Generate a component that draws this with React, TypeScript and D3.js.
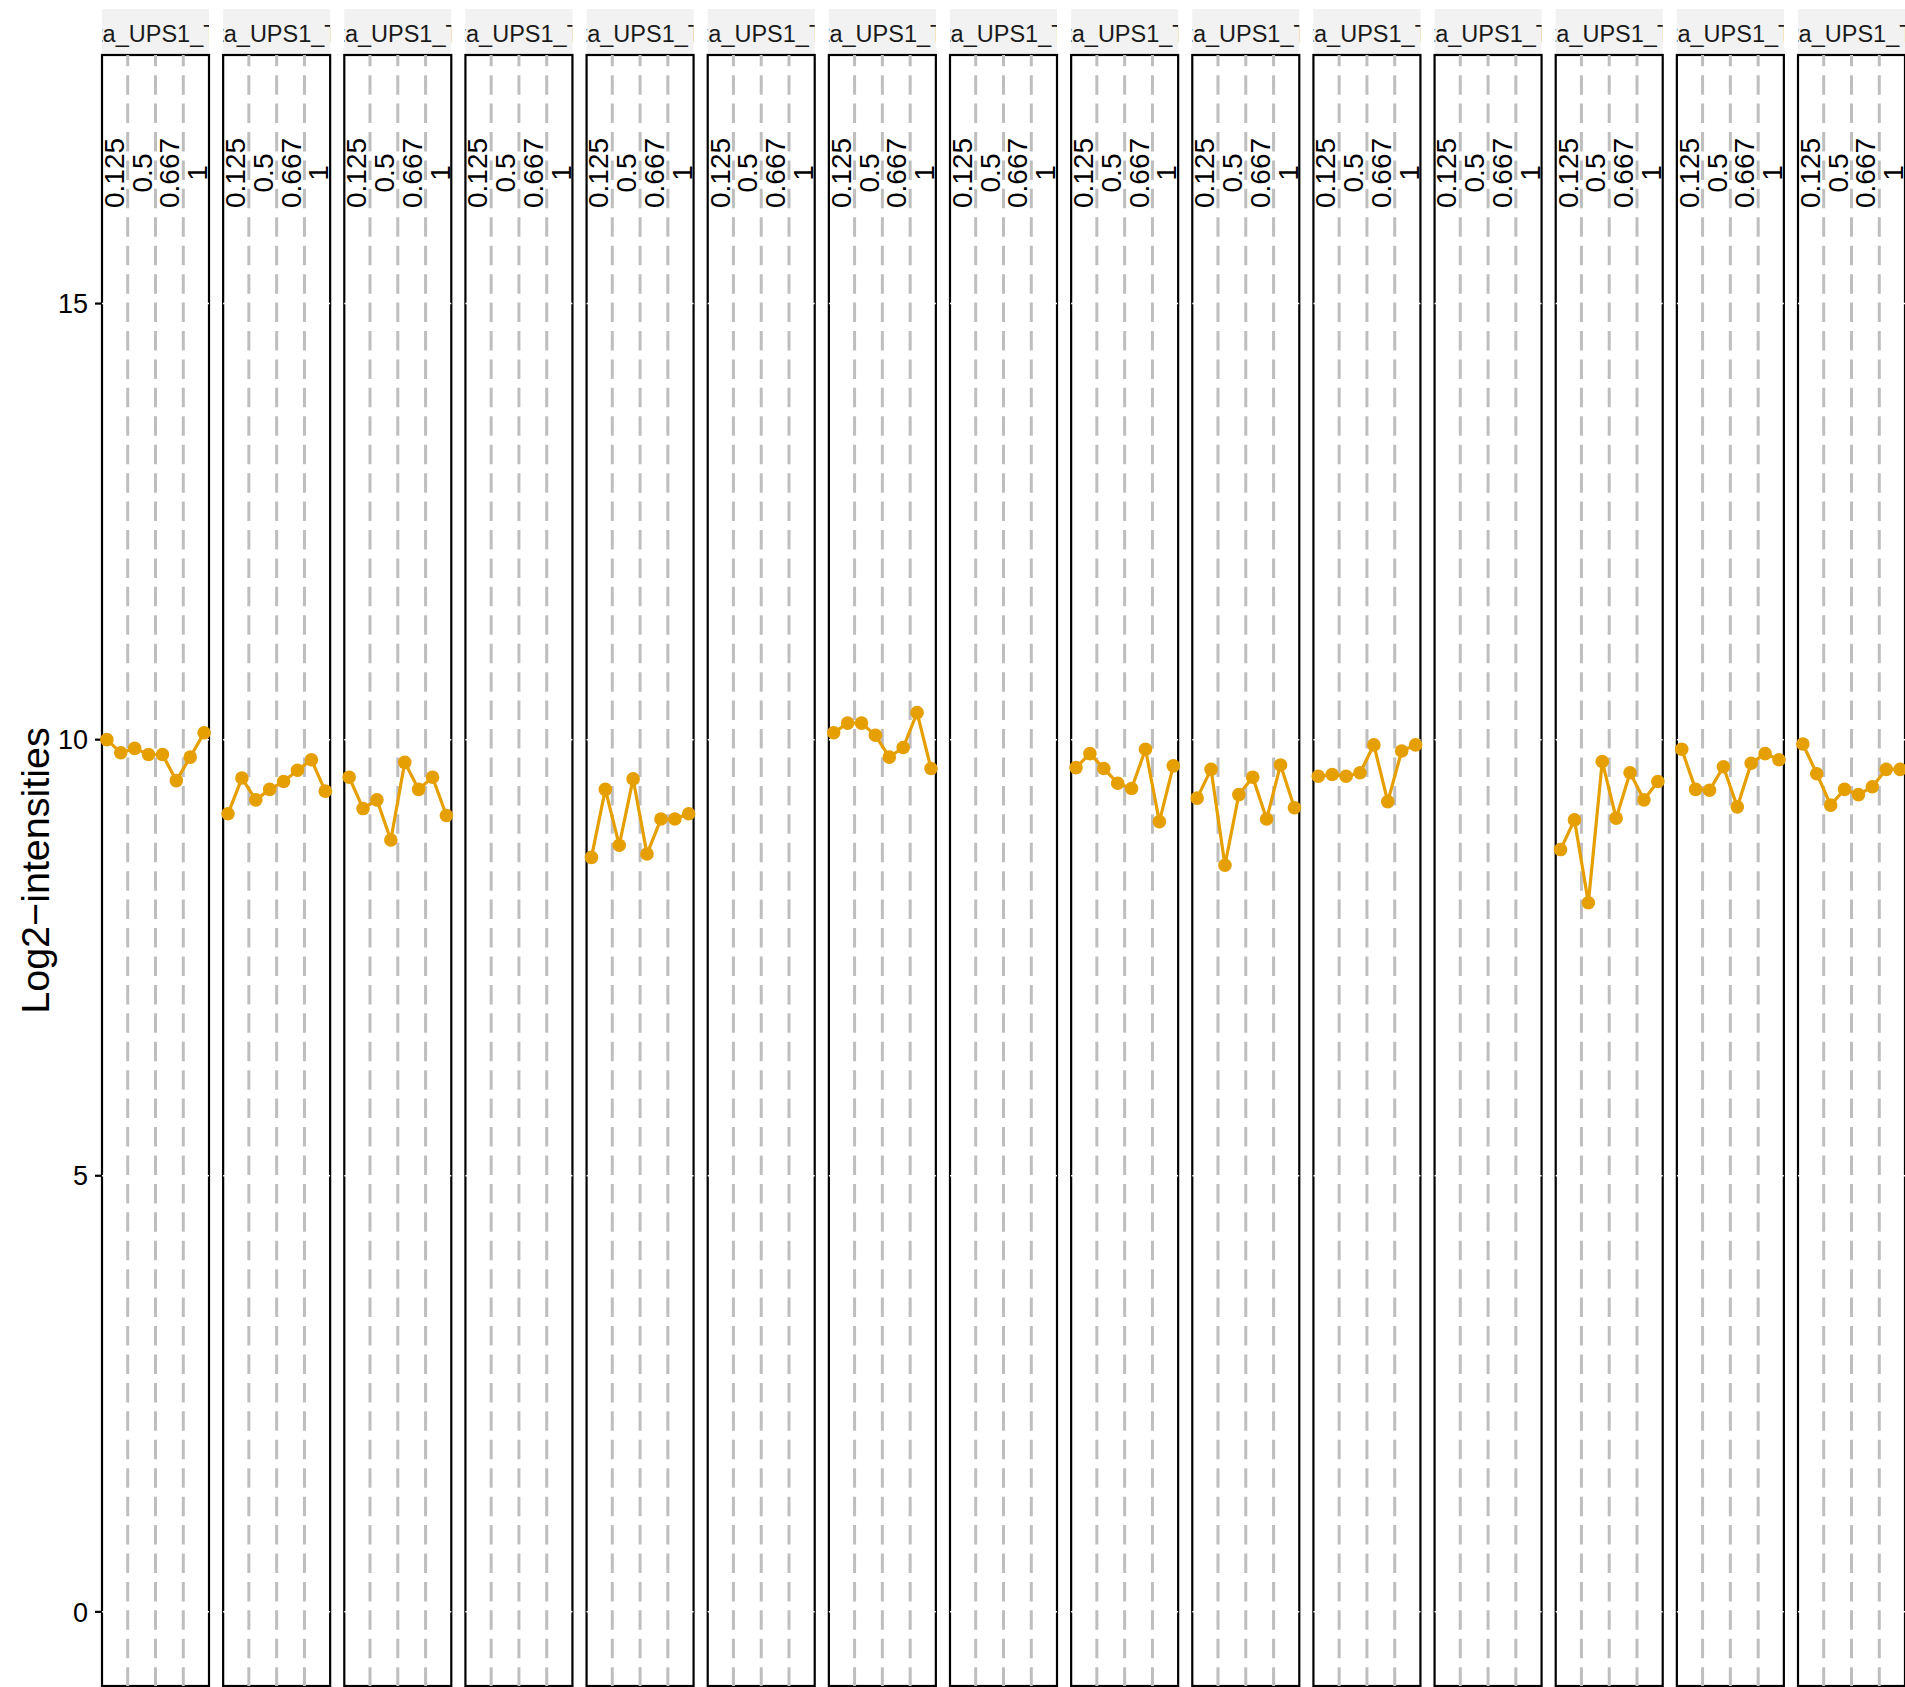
import React from 'react';
import * as d3 from 'd3';

// facet strips (only the middle of each label is visible in the strip)
const panelLabels = [
  'Data_UPS1_T01', 'Data_UPS1_T02', 'Data_UPS1_T03', 'Data_UPS1_T04', 'Data_UPS1_T05',
  'Data_UPS1_T06', 'Data_UPS1_T07', 'Data_UPS1_T08', 'Data_UPS1_T09', 'Data_UPS1_T10',
  'Data_UPS1_T11', 'Data_UPS1_T12', 'Data_UPS1_T13', 'Data_UPS1_T14', 'Data_UPS1_T15',
];
const conditions = ['0.125', '0.5', '0.667', '1'];
const samples = [1, 2, 3, 4, 5, 6, 7, 8];
const yTicks = [0, 5, 10, 15];

// log2 intensities per panel (empty = no data)
const p01 = [10.0, 9.85, 9.9, 9.83, 9.83, 9.53, 9.8, 10.08];
const p02 = [9.15, 9.56, 9.31, 9.43, 9.52, 9.65, 9.77, 9.41];
const p03 = [9.57, 9.21, 9.31, 8.85, 9.74, 9.43, 9.57, 9.13];
const p04: number[] = [];
const p05 = [8.65, 9.43, 8.79, 9.55, 8.69, 9.09, 9.09, 9.15];
const p06: number[] = [];
const p07 = [10.08, 10.19, 10.19, 10.05, 9.8, 9.91, 10.31, 9.67];
const p08: number[] = [];
const p09 = [9.68, 9.84, 9.67, 9.5, 9.44, 9.89, 9.06, 9.7];
const p10 = [9.33, 9.66, 8.56, 9.37, 9.57, 9.09, 9.71, 9.22];
const p11 = [9.58, 9.6, 9.58, 9.62, 9.94, 9.29, 9.87, 9.94];
const p12: number[] = [];
const p13 = [8.74, 9.08, 8.13, 9.75, 9.1, 9.62, 9.31, 9.52];
const p14 = [9.89, 9.43, 9.42, 9.69, 9.23, 9.73, 9.84, 9.77];
const p15 = [9.95, 9.61, 9.25, 9.43, 9.37, 9.46, 9.66, 9.66];

const intensities = [p01, p02, p03, p04, p05, p06, p07, p08, p09, p10, p11, p12, p13, p14, p15];

const W = 1905;
const H = 1687;
const stripTop = 9;
const panelTop = 55;
const panelBottom = 1686;
const font = 'Liberation Sans, Arial, Helvetica, sans-serif';
const orange = '#E69F00';

export default function App() {
  const panelX = d3
    .scaleBand<string>()
    .domain(panelLabels)
    .range([102, W])
    .paddingInner(0.1167)
    .paddingOuter(0);
  const pw = panelX.bandwidth();

  const x = d3.scaleLinear().domain([0.65, 8.35]).range([0, pw]);
  const y = d3.scaleLinear().domain([-0.85, 17.85]).range([panelBottom, panelTop]);

  const line = d3
    .line<number>()
    .x((d, i) => x(samples[i]))
    .y((d) => y(d));

  const dividers = conditions.slice(0, -1).map((c, i) => 2 * i + 2.5);

  return (
    <svg
      width={W}
      height={H}
      style={{ position: 'absolute', left: 0, top: 0, display: 'block', background: '#fff' }}
      fontFamily={font}
    >
      <defs>
        {panelLabels.map((p, i) => (
          <clipPath id={'strip' + i} key={p}>
            <rect x={panelX(p)} y={stripTop} width={pw} height={panelTop - stripTop} />
          </clipPath>
        ))}
      </defs>

      {/* y axis title */}
      <text
        transform={`translate(49, ${(panelTop + panelBottom) / 2}) rotate(-90)`}
        textAnchor="middle"
        fontSize={39.5}
        fill="#000"
      >
        Log2−intensities
      </text>

      {/* y axis ticks on first panel */}
      {yTicks.map((t) => (
        <g key={t}>
          <line x1={95} x2={102} y1={y(t)} y2={y(t)} stroke="#000" strokeWidth={2.2} />
          <text x={88} y={y(t)} dy="0.36em" textAnchor="end" fontSize={27} fill="#000">
            {t}
          </text>
        </g>
      ))}

      {panelLabels.map((p, i) => {
        const left = panelX(p) as number;
        const vals = intensities[i];
        return (
          <g key={p}>
            {/* strip */}
            <rect x={left} y={stripTop} width={pw} height={panelTop - stripTop} fill="#F2F2F2" />
            <g clipPath={`url(#strip${i})`}>
              <text x={left} dx="-1.53em" y={42} fontSize={23.5} fill="#1A1A1A">
                {p}
              </text>
            </g>

            {/* panel background */}
            <rect
              x={left}
              y={panelTop}
              width={pw}
              height={panelBottom - panelTop}
              fill="#fff"
              stroke="#000"
              strokeWidth={2.2}
            />
            {yTicks.map((t) => (
              <line
                key={t}
                x1={left}
                x2={left + pw}
                y1={y(t)}
                y2={y(t)}
                stroke="#fff"
                strokeWidth={1.5}
              />
            ))}

            {/* condition dividers */}
            {dividers.map((d) => (
              <line
                key={d}
                x1={left + x(d)}
                x2={left + x(d)}
                y1={panelTop}
                y2={panelBottom}
                stroke="#BEBEBE"
                strokeWidth={3}
                strokeDasharray="19.5 8.93"
                strokeDashoffset={8.3}
              />
            ))}

            {/* condition labels */}
            {conditions.map((c, k) => (
              <text
                key={c}
                transform={`translate(${left + x(2 * k + 1.5)}, 173) rotate(-90)`}
                dy="0.36em"
                textAnchor="middle"
                fontSize={28}
                fill="#000"
              >
                {c}
              </text>
            ))}

            {/* data */}
            {vals.length > 0 && (
              <g transform={`translate(${left},0)`}>
                <path d={line(vals) as string} fill="none" stroke={orange} strokeWidth={3.2} />
                {vals.map((v, k) => (
                  <circle key={k} cx={x(samples[k])} cy={y(v)} r={6.8} fill={orange} />
                ))}
              </g>
            )}
          </g>
        );
      })}
    </svg>
  );
}
